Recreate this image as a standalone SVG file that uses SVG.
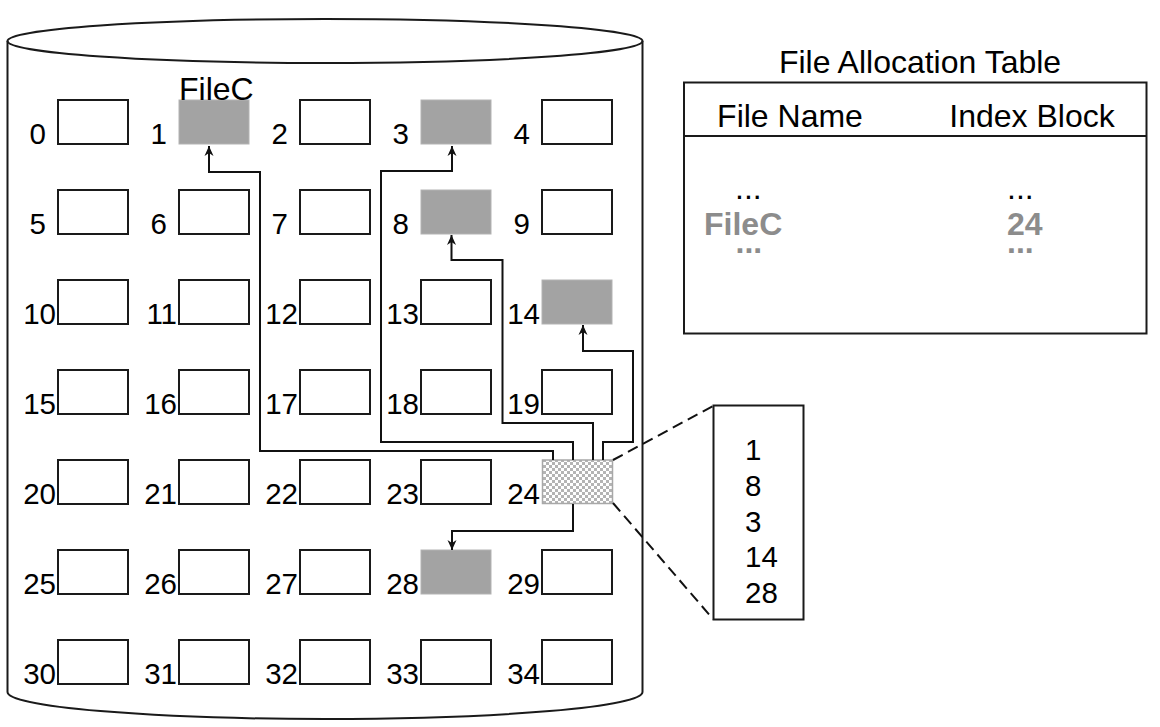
<svg xmlns="http://www.w3.org/2000/svg" width="1160" height="727" viewBox="0 0 1160 727">
<style>
text{font-family:"Liberation Sans",Arial,sans-serif;fill:#000}
.n{font-size:29.5px;text-anchor:end}
.blk{fill:#fff;stroke:#1a1a1a;stroke-width:2}
.used{fill:#a3a3a3;stroke:#b3b3b3;stroke-width:1}
.idx{fill:url(#chk);stroke:#a8a8a8;stroke-width:1.5}
.cyl{fill:none;stroke:#1a1a1a;stroke-width:2}
.con{fill:none;stroke:#111;stroke-width:2;marker-end:url(#ah)}
.dash{fill:none;stroke:#111;stroke-width:2;stroke-dasharray:11 6}
.t32{font-size:32px}
.g{fill:#8c8c8c;font-weight:bold}
.ib{font-size:29.5px}
</style>
<defs>
<pattern id="chk" x="0" y="0" width="6" height="6" patternUnits="userSpaceOnUse">
<rect width="6" height="6" fill="#fff"/>
<rect width="3" height="3" fill="#b4b4b4"/>
<rect x="3" y="3" width="3" height="3" fill="#b4b4b4"/>
</pattern>
<marker id="ah" markerWidth="12" markerHeight="12" refX="10" refY="5" orient="auto" markerUnits="userSpaceOnUse">
<path d="M0,0.5 L10,5 L0,9.5 L3,5 Z" fill="#111"/>
</marker>
</defs>
<rect width="1160" height="727" fill="#fff"/>
<g id="disk">
<path class="cyl" d="M7.5,41 V692 A317.5,27 0 0 0 642.5,692 V41"/>
<ellipse class="cyl" cx="325" cy="41" rx="317.5" ry="22"/>
</g>
<g id="blocks">
<g id="b0"><rect class="blk" x="58" y="100" width="70" height="44"/><text class="n" x="46" y="144">0</text></g>
<g id="b1"><rect class="used" x="179" y="100" width="70" height="44"/><text class="n" x="167" y="144">1</text><text class="t32" x="179" y="100">FileC</text></g>
<g id="b2"><rect class="blk" x="300" y="100" width="70" height="44"/><text class="n" x="288" y="144">2</text></g>
<g id="b3"><rect class="used" x="421" y="100" width="70" height="44"/><text class="n" x="409" y="144">3</text></g>
<g id="b4"><rect class="blk" x="542" y="100" width="70" height="44"/><text class="n" x="530" y="144">4</text></g>
<g id="b5"><rect class="blk" x="58" y="190" width="70" height="44"/><text class="n" x="46" y="234">5</text></g>
<g id="b6"><rect class="blk" x="179" y="190" width="70" height="44"/><text class="n" x="167" y="234">6</text></g>
<g id="b7"><rect class="blk" x="300" y="190" width="70" height="44"/><text class="n" x="288" y="234">7</text></g>
<g id="b8"><rect class="used" x="421" y="190" width="70" height="44"/><text class="n" x="409" y="234">8</text></g>
<g id="b9"><rect class="blk" x="542" y="190" width="70" height="44"/><text class="n" x="530" y="234">9</text></g>
<g id="b10"><rect class="blk" x="58" y="280" width="70" height="44"/><text class="n" x="56" y="324">10</text></g>
<g id="b11"><rect class="blk" x="179" y="280" width="70" height="44"/><text class="n" x="177" y="324">11</text></g>
<g id="b12"><rect class="blk" x="300" y="280" width="70" height="44"/><text class="n" x="298" y="324">12</text></g>
<g id="b13"><rect class="blk" x="421" y="280" width="70" height="44"/><text class="n" x="419" y="324">13</text></g>
<g id="b14"><rect class="used" x="542" y="280" width="70" height="44"/><text class="n" x="540" y="324">14</text></g>
<g id="b15"><rect class="blk" x="58" y="370" width="70" height="44"/><text class="n" x="56" y="414">15</text></g>
<g id="b16"><rect class="blk" x="179" y="370" width="70" height="44"/><text class="n" x="177" y="414">16</text></g>
<g id="b17"><rect class="blk" x="300" y="370" width="70" height="44"/><text class="n" x="298" y="414">17</text></g>
<g id="b18"><rect class="blk" x="421" y="370" width="70" height="44"/><text class="n" x="419" y="414">18</text></g>
<g id="b19"><rect class="blk" x="542" y="370" width="70" height="44"/><text class="n" x="540" y="414">19</text></g>
<g id="b20"><rect class="blk" x="58" y="460" width="70" height="44"/><text class="n" x="56" y="504">20</text></g>
<g id="b21"><rect class="blk" x="179" y="460" width="70" height="44"/><text class="n" x="177" y="504">21</text></g>
<g id="b22"><rect class="blk" x="300" y="460" width="70" height="44"/><text class="n" x="298" y="504">22</text></g>
<g id="b23"><rect class="blk" x="421" y="460" width="70" height="44"/><text class="n" x="419" y="504">23</text></g>
<g id="b24"><rect class="idx" x="542.5" y="460" width="70" height="43.5"/><text class="n" x="540" y="504">24</text></g>
<g id="b25"><rect class="blk" x="58" y="550" width="70" height="44"/><text class="n" x="56" y="594">25</text></g>
<g id="b26"><rect class="blk" x="179" y="550" width="70" height="44"/><text class="n" x="177" y="594">26</text></g>
<g id="b27"><rect class="blk" x="300" y="550" width="70" height="44"/><text class="n" x="298" y="594">27</text></g>
<g id="b28"><rect class="used" x="421" y="550" width="70" height="44"/><text class="n" x="419" y="594">28</text></g>
<g id="b29"><rect class="blk" x="542" y="550" width="70" height="44"/><text class="n" x="540" y="594">29</text></g>
<g id="b30"><rect class="blk" x="58" y="640" width="70" height="44"/><text class="n" x="56" y="684">30</text></g>
<g id="b31"><rect class="blk" x="179" y="640" width="70" height="44"/><text class="n" x="177" y="684">31</text></g>
<g id="b32"><rect class="blk" x="300" y="640" width="70" height="44"/><text class="n" x="298" y="684">32</text></g>
<g id="b33"><rect class="blk" x="421" y="640" width="70" height="44"/><text class="n" x="419" y="684">33</text></g>
<g id="b34"><rect class="blk" x="542" y="640" width="70" height="44"/><text class="n" x="540" y="684">34</text></g>
</g>
<g id="fat">
<text class="t32" x="920" y="73" text-anchor="middle">File Allocation Table</text>
<rect x="684" y="82.5" width="462.5" height="251" fill="none" stroke="#1a1a1a" stroke-width="2"/>
<line x1="684" y1="136" x2="1146.5" y2="136" stroke="#1a1a1a" stroke-width="2"/>
<text class="t32" x="790" y="127" text-anchor="middle">File Name</text>
<text class="t32" x="1032" y="127" text-anchor="middle">Index Block</text>
<text class="t32" x="735" y="199">...</text>
<text class="t32 g" x="704" y="235">FileC</text>
<text class="t32 g" x="735.5" y="253">...</text>
<text class="t32" x="1007" y="199">...</text>
<text class="t32 g" x="1007" y="235">24</text>
<text class="t32 g" x="1007" y="253">...</text>
</g>
<g id="indexblock">
<rect x="713.5" y="405.5" width="90" height="214" fill="#fff" stroke="#1a1a1a" stroke-width="2"/>
<text class="ib" x="745" y="460">1</text>
<text class="ib" x="745" y="496">8</text>
<text class="ib" x="745" y="531.5">3</text>
<text class="ib" x="745" y="567">14</text>
<text class="ib" x="745" y="603">28</text>
</g>
<g id="connectors">
<path class="con" d="M553,460 V451 H260 V172 H209 V146"/>
<path class="con" d="M573,460 V442 H381 V171 H452 V146"/>
<path class="con" d="M593,460 V423 H502.5 V260 H451.5 V235"/>
<path class="con" d="M603,460 V442 H633 V351 H583 V325"/>
<path class="con" d="M573,504 V531 H452 V550"/>
<line class="dash" x1="613" y1="460" x2="713" y2="406"/>
<line class="dash" x1="613" y1="503" x2="713" y2="619"/>
</g>
</svg>
